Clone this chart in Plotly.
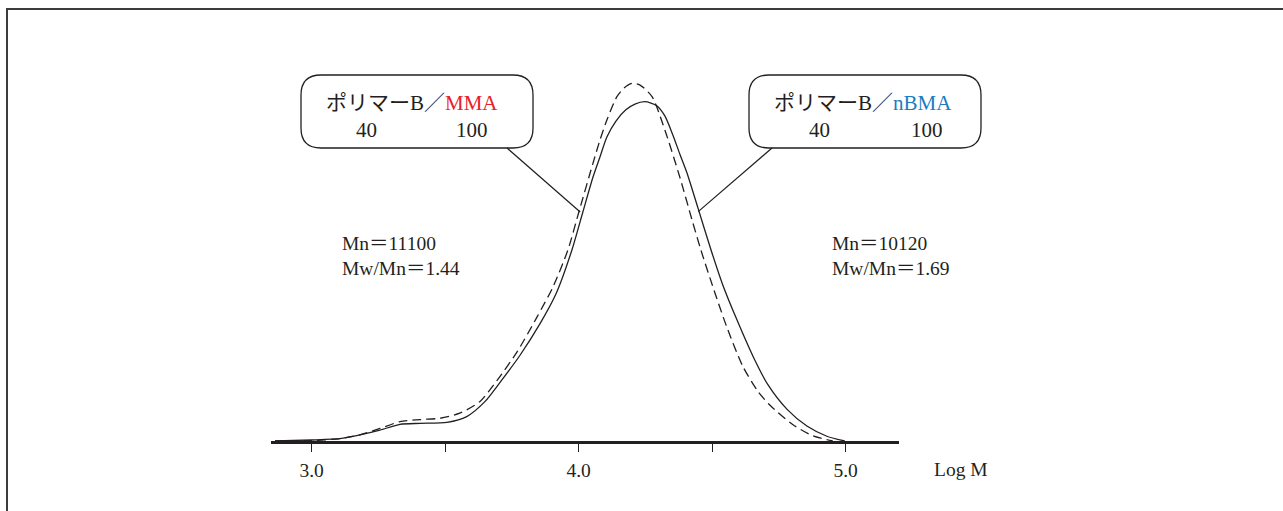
import plotly.graph_objects as go

# ---------------- data ----------------
solid_logm = [2.863, 3.000, 3.106, 3.181, 3.256, 3.331, 3.406, 3.507, 3.581, 3.649,
              3.705, 3.780, 3.855, 3.915, 3.975, 4.016, 4.054, 4.080, 4.106, 4.140,
              4.177, 4.211, 4.248, 4.271, 4.293, 4.323, 4.353, 4.379, 4.406, 4.447,
              4.496, 4.540, 4.593, 4.653, 4.709, 4.780, 4.855, 4.930, 4.997]
solid_resp = [0.000, 0.003, 0.007, 0.018, 0.032, 0.049, 0.052, 0.055, 0.072, 0.116,
              0.172, 0.252, 0.345, 0.433, 0.563, 0.675, 0.778, 0.837, 0.896, 0.943,
              0.976, 0.993, 1.000, 0.996, 0.988, 0.958, 0.902, 0.846, 0.790, 0.687,
              0.563, 0.460, 0.357, 0.250, 0.166, 0.094, 0.044, 0.014, 0.000]

dashed_logm = [2.863, 3.000, 3.106, 3.181, 3.256, 3.331, 3.406, 3.481, 3.555, 3.630,
               3.694, 3.769, 3.844, 3.904, 3.960, 4.001, 4.054, 4.080, 4.106, 4.143,
               4.170, 4.200, 4.230, 4.275, 4.323, 4.379, 4.424, 4.458, 4.507, 4.555,
               4.615, 4.672, 4.716, 4.803, 4.878, 4.952]
dashed_resp = [0.000, 0.001, 0.007, 0.018, 0.037, 0.057, 0.063, 0.067, 0.082, 0.116,
               0.178, 0.262, 0.365, 0.454, 0.563, 0.675, 0.819, 0.887, 0.946, 1.014,
               1.040, 1.054, 1.049, 1.015, 0.917, 0.778, 0.654, 0.563, 0.445, 0.336,
               0.220, 0.146, 0.106, 0.048, 0.015, 0.000]

tick_vals = [3.0, 3.5, 4.0, 4.5, 5.0]
tick_text = ["3.0", "", "4.0", "", "5.0"]
axis_title = "Log M"

left_box = ["ポリマーB／", "MMA", "40", "100"]
right_box = ["ポリマーB／", "nBMA", "40", "100"]
left_stats = ["Mn＝11100", "Mw/Mn＝1.44"]
right_stats = ["Mn＝10120", "Mw/Mn＝1.69"]
left_pointer = (4.006, 0.675)
right_pointer = (4.448, 0.676)

# ---------------- layout constants ----------------
W, H = 1283, 511
ML, MR, MT, MB = 271, 384, 9, 70
PW, PH = W - ML - MR, H - MT - MB
X0, X1 = 2.848, 5.200
Y0, Y1 = 0.0, 1.2732
INK = "#231f20"
RED = "#e8202a"
BLUE = "#1a7cc1"
FONT = "Liberation Serif, Noto Sans CJK JP, serif"


def px_paper(px):
    return (px - ML) / PW


def py_paper(py):
    return (H - MB - py) / PH


def px_data(px):
    return X0 + (px - ML) / PW * (X1 - X0)


def py_data(py):
    return Y0 + (H - MB - py) / PH * (Y1 - Y0)


def rounded_rect(x0, y0, x1, y1, r):
    def P(x, y):
        return f"{px_paper(x):.5f},{py_paper(y):.5f}"
    return (f"M {P(x0 + r, y0)} L {P(x1 - r, y0)} Q {P(x1, y0)} {P(x1, y0 + r)} "
            f"L {P(x1, y1 - r)} Q {P(x1, y1)} {P(x1 - r, y1)} "
            f"L {P(x0 + r, y1)} Q {P(x0, y1)} {P(x0, y1 - r)} "
            f"L {P(x0, y0 + r)} Q {P(x0, y0)} {P(x0 + r, y0)} Z")


fig = go.Figure()
fig.add_trace(go.Scatter(x=solid_logm, y=solid_resp, mode="lines",
                         line=dict(color=INK, width=1.3, shape="spline", smoothing=0.7),
                         hoverinfo="skip", showlegend=False, cliponaxis=False))
fig.add_trace(go.Scatter(x=dashed_logm, y=dashed_resp, mode="lines",
                         line=dict(color=INK, width=1.3, dash="9px,5px", shape="spline", smoothing=0.7),
                         hoverinfo="skip", showlegend=False, cliponaxis=False))

shapes = []
# outer frame (only top and left edges fall inside the view)
shapes.append(dict(type="rect", xref="paper", yref="paper",
                   x0=px_paper(7), x1=px_paper(1300), y0=py_paper(530), y1=py_paper(9),
                   line=dict(color="#3c3c3c", width=2), fillcolor="rgba(0,0,0,0)", layer="below"))
# rounded label boxes
for bx0, bx1 in [(301, 533), (749, 981)]:
    shapes.append(dict(type="path", xref="paper", yref="paper",
                       path=rounded_rect(bx0, 75, bx1, 148, 20),
                       line=dict(color=INK, width=1.3), fillcolor="white"))
# pointer lines
shapes.append(dict(type="line", xref="x", yref="y",
                   x0=px_data(507), y0=py_data(148), x1=left_pointer[0], y1=left_pointer[1],
                   line=dict(color=INK, width=1.2)))
shapes.append(dict(type="line", xref="x", yref="y",
                   x0=px_data(772), y0=py_data(148), x1=right_pointer[0], y1=right_pointer[1],
                   line=dict(color=INK, width=1.2)))

ann = []


def add_text(text, px, py, xanchor="left", size=20):
    ann.append(dict(text=text, x=px_paper(px), y=py_paper(py), xref="paper", yref="paper",
                    xanchor=xanchor, yanchor="middle", showarrow=False,
                    font=dict(family=FONT, size=size, color=INK)))


add_text(f"{left_box[0]}<span style='color:{RED}'>{left_box[1]}</span>", 324, 103, size=21)
add_text(left_box[2], 366, 130, "center", size=21)
add_text(left_box[3], 472, 130, "center", size=21)
add_text(f"{right_box[0]}<span style='color:{BLUE}'>{right_box[1]}</span>", 772, 103, size=21)
add_text(right_box[2], 819, 130, "center", size=21)
add_text(right_box[3], 927, 130, "center", size=21)
add_text(left_stats[0], 340, 244, size=19.5)
add_text(left_stats[1], 340, 268, size=19.5)
add_text(right_stats[0], 830, 244, size=19.5)
add_text(right_stats[1], 830, 268, size=19.5)
add_text(axis_title, 932, 470, size=19.5)

fig.update_layout(
    width=W, height=H,
    margin=dict(l=ML, r=MR, t=MT, b=MB, pad=0),
    paper_bgcolor="white", plot_bgcolor="white",
    shapes=shapes, annotations=ann,
    xaxis=dict(range=[X0, X1], showgrid=False, zeroline=False,
               showline=True, linecolor=INK, linewidth=2.5,
               ticks="outside", ticklen=8, tickwidth=1.3, tickcolor=INK,
               tickvals=tick_vals, ticktext=tick_text,
               tickfont=dict(family=FONT, size=19.5, color=INK),
               ticklabelstandoff=2, fixedrange=True),
    yaxis=dict(range=[Y0, Y1], visible=False, fixedrange=True),
)

fig.write_html("out.html", config={"displayModeBar": False},
               post_script="document.body.style.margin='0px';document.body.style.overflow='hidden';")
